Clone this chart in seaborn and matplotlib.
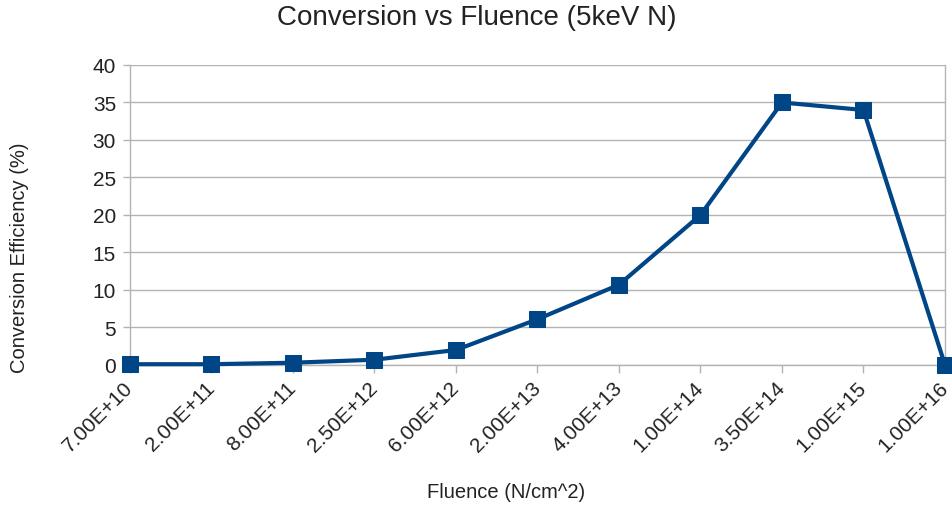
import matplotlib
matplotlib.use("Agg")
import matplotlib.pyplot as plt
import seaborn as sns
import pandas as pd

fluence = ["7.00E+10", "2.00E+11", "8.00E+11", "2.50E+12", "6.00E+12",
           "2.00E+13", "4.00E+13", "1.00E+14", "3.50E+14", "1.00E+15", "1.00E+16"]
efficiency = [0.1, 0.1, 0.3, 0.7, 2.0, 6.1, 10.7, 20.0, 35.0, 34.0, 0.0]
y_ticks = [0, 5, 10, 15, 20, 25, 30, 35, 40]

sns.set_theme(style="white")
plt.rcParams["font.family"] = ["Liberation Sans", "DejaVu Sans"]

df = pd.DataFrame({"Fluence": fluence, "Efficiency": efficiency})

fig = plt.figure(figsize=(9.53, 5.10), dpi=100)
ax = fig.add_axes([0.1364, 0.2824, 0.8552, 0.5882])

line_color = "#004586"
grid_color = "#b3b3b3"
text_color = "#222222"

sns.lineplot(data=df, x="Fluence", y="Efficiency", sort=False, ax=ax,
             color=line_color, linewidth=3, marker="s", markersize=11.5,
             markeredgecolor=line_color, markerfacecolor=line_color, zorder=3)

ax.set_xlim(0, len(fluence) - 1)
ax.set_ylim(0, 40)
ax.set_yticks(y_ticks)
ax.set_yticklabels([str(v) for v in y_ticks], fontsize=15, color=text_color)
ax.set_xticks(range(len(fluence)))
ax.set_xticklabels(fluence, rotation=45, ha="right", va="center",
                   rotation_mode="anchor", fontsize=15, color=text_color)

ax.yaxis.grid(True, color=grid_color, linewidth=1)
ax.xaxis.grid(False)
ax.spines["top"].set_visible(False)
for side in ["left", "right", "bottom"]:
    ax.spines[side].set_color(grid_color)
    ax.spines[side].set_linewidth(1)

ax.tick_params(axis="x", which="major", direction="out", length=6, width=1,
               color=grid_color, pad=8, bottom=True)
ax.tick_params(axis="y", which="major", direction="out", length=5, width=1,
               color=grid_color, pad=5, left=True)

ax.set_xlabel("Fluence (N/cm^2)", fontsize=14.5, color=text_color, va="center")
ax.xaxis.set_label_coords(0.461, -0.423)
ax.set_ylabel("Conversion Efficiency (%)", fontsize=14.5, color=text_color, va="center")
ax.yaxis.set_label_coords(-0.135, 0.36)
fig.suptitle("Conversion vs Fluence (5keV N)", fontsize=20, color=text_color,
             y=0.965, va="center")

for c in ax.collections + ax.lines:
    c.set_clip_on(False)

fig.savefig("out.png", dpi=100)
